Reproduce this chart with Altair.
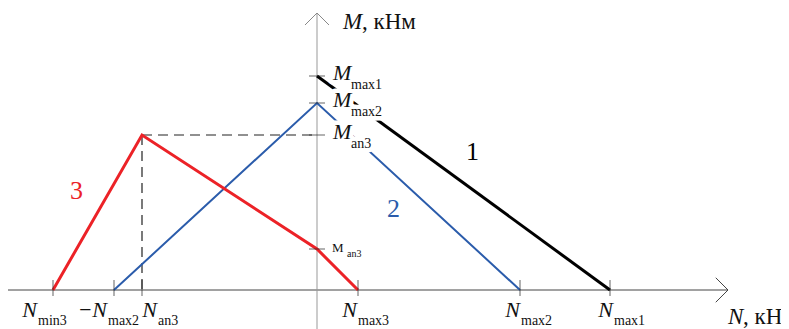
import altair as alt
import pandas as pd

# ---- data (N in kN, M in kNm, arbitrary units) ----
n_names = ["N", "\u2212N", "N", "N", "N", "N"]
n_subs = ["min3", "max2", "an3", "max3", "max2", "max1"]
n_vals = [-264, -203, -175, 41, 203, 293]

m_subs = ["max1", "max2", "an3"]
m_vals = [214, 187, 155]
m_small_val = 41          # lower "M an3" mark

s1_N = [0, 293]
s1_M = [214, 0]
s2_N = [-203, 0, 203]
s2_M = [0, 187, 0]
s3_N = [-264, -175, 0, 41]
s3_M = [0, 155, 41, 0]

x_axis_N = [-309, 411]
y_axis_M = [-39, 277]

# ---- layout / style ----
W, H = 773, 321
X_DOM = [-309, 464]
Y_DOM = [-39, 282]
C1, C2, C3 = "#000000", "#2b5cab", "#ec2227"
SERIF = "Liberation Serif"
n_label_dx = [-16, -7, 15, -1, 0, 3]

xs = alt.Scale(domain=X_DOM, nice=False, zero=False)
ys = alt.Scale(domain=Y_DOM, nice=False, zero=False)


def X(f="N"):
    return alt.X(f"{f}:Q", scale=xs, axis=None)


def Y(f="M"):
    return alt.Y(f"{f}:Q", scale=ys, axis=None)


layers = []

# axes
xaxis = pd.DataFrame({"N": [x_axis_N[0]], "N2": [x_axis_N[1]], "M": [0]})
yaxis = pd.DataFrame({"N": [0], "M": [y_axis_M[0]], "M2": [y_axis_M[1]]})
layers.append(alt.Chart(xaxis).mark_rule(color="#444", strokeWidth=1).encode(
    x=X(), x2="N2:Q", y=Y()))
layers.append(alt.Chart(yaxis).mark_rule(color="#999", strokeWidth=1).encode(
    x=X(), y=Y(), y2="M2:Q"))
layers.append(alt.Chart(pd.DataFrame({"N": [x_axis_N[1]], "M": [0]})).mark_point(
    shape="M-1,-1L0,0L-1,1", filled=False, size=600, color="#444", strokeWidth=1, opacity=1
).encode(x=X(), y=Y()))
layers.append(alt.Chart(pd.DataFrame({"N": [0], "M": [y_axis_M[1]]})).mark_point(
    shape="M-1,1L0,0L1,1", filled=False, size=576, color="#888", strokeWidth=1, opacity=1
).encode(x=X(), y=Y()))

# dashed guides at the red peak
peakN, peakM = s3_N[1], s3_M[1]
dash = pd.DataFrame({"N": [peakN, peakN], "M": [peakM, peakM],
                     "N2": [0, peakN], "M2": [peakM, 0]})
layers.append(alt.Chart(dash).mark_rule(color="#222", strokeWidth=1.2, strokeDash=[10, 6]).encode(
    x=X(), y=Y(), x2="N2:Q", y2="M2:Q"))

# series lines
for Ns, Ms, col, sw in [(s2_N, s2_M, C2, 2), (s3_N, s3_M, C3, 3), (s1_N, s1_M, C1, 3)]:
    df = pd.DataFrame({"N": Ns, "M": Ms, "o": list(range(len(Ns)))})
    layers.append(alt.Chart(df).mark_line(color=col, strokeWidth=sw).encode(
        x=X(), y=Y(), order="o:Q"))

# ticks
ntick = pd.DataFrame({"N": n_vals, "M": [0] * len(n_vals)})
layers.append(alt.Chart(ntick).mark_tick(orient="vertical", size=16, thickness=1, color="#222",
                                         yOffset=-2).encode(x=X(), y=Y()))
mvals_all = m_vals + [m_small_val]
mtick = pd.DataFrame({"M": mvals_all, "N": [0] * len(mvals_all)})
layers.append(alt.Chart(mtick).mark_tick(orient="horizontal", size=16, thickness=1, color="#222").encode(
    x=X(), y=Y()))

# N labels
for i in range(len(n_vals)):
    d = pd.DataFrame({"N": [n_vals[i]], "M": [0], "t": [n_names[i]], "s": [n_subs[i]]})
    layers.append(alt.Chart(d).mark_text(font=SERIF, fontStyle="italic", fontSize=22, align="right",
                                         baseline="alphabetic", dx=n_label_dx[i], dy=27, color="#111").encode(
        x=X(), y=Y(), text="t:N"))
    layers.append(alt.Chart(d).mark_text(font=SERIF, fontSize=14, align="left",
                                         baseline="alphabetic", dx=n_label_dx[i] + 1, dy=35, color="#111").encode(
        x=X(), y=Y(), text="s:N"))

# M labels (with white halo)
md = pd.DataFrame({"N": [0] * len(m_vals), "M": m_vals, "t": ["M"] * len(m_vals), "s": m_subs})
for halo in (True, False):
    kw = dict(color="white", stroke="white", strokeWidth=9, strokeJoin="round") if halo else dict(color="#111")
    layers.append(alt.Chart(md).mark_text(font=SERIF, fontStyle="italic", fontSize=22, align="left",
                                          baseline="alphabetic", dx=16, dy=4, **kw).encode(
        x=X(), y=Y(), text="t:N"))
    layers.append(alt.Chart(md).mark_text(font=SERIF, fontSize=14, align="left",
                                          baseline="alphabetic", dx=34, dy=13, **kw).encode(
        x=X(), y=Y(), text="s:N"))

sm = pd.DataFrame({"N": [0], "M": [m_small_val], "t": ["M"], "s": ["an3"]})
layers.append(alt.Chart(sm).mark_text(font=SERIF, fontSize=13, align="left", baseline="alphabetic",
                                      dx=15, dy=3, color="#111").encode(x=X(), y=Y(), text="t:N"))
layers.append(alt.Chart(sm).mark_text(font=SERIF, fontSize=10, align="left", baseline="alphabetic",
                                      dx=30, dy=8, color="#111").encode(x=X(), y=Y(), text="s:N"))

# axis titles
ty = pd.DataFrame({"N": [0], "M": [y_axis_M[1]], "a": ["M"], "b": [", кНм"]})
layers.append(alt.Chart(ty).mark_text(font=SERIF, fontStyle="italic", fontSize=23, align="left",
                                      baseline="alphabetic", dx=26, dy=16, color="#111").encode(
    x=X(), y=Y(), text="a:N"))
layers.append(alt.Chart(ty).mark_text(font=SERIF, fontSize=23, align="left",
                                      baseline="alphabetic", dx=45, dy=16, color="#111").encode(
    x=X(), y=Y(), text="b:N"))
tx = pd.DataFrame({"N": [x_axis_N[1]], "M": [0], "a": ["N"], "b": [", кН"]})
layers.append(alt.Chart(tx).mark_text(font=SERIF, fontStyle="italic", fontSize=23, align="left",
                                      baseline="alphabetic", dx=0, dy=34, color="#111").encode(
    x=X(), y=Y(), text="a:N"))
layers.append(alt.Chart(tx).mark_text(font=SERIF, fontSize=23, align="left",
                                      baseline="alphabetic", dx=15, dy=34, color="#111").encode(
    x=X(), y=Y(), text="b:N"))


# series numbers, placed relative to segment midpoints
def mid(Ns, Ms, a, b):
    return (Ns[a] + Ns[b]) / 2, (Ms[a] + Ms[b]) / 2


for txt, (mn, mm), col, ddx, ddy in [
    ("1", mid(s1_N, s1_M, 0, 1), C1, 9, -31),
    ("2", mid(s2_N, s2_M, 1, 2), C2, -25, 12),
    ("3", mid(s3_N, s3_M, 0, 1), C3, -21, -22),
]:
    d = pd.DataFrame({"N": [mn], "M": [mm], "t": [txt]})
    layers.append(alt.Chart(d).mark_text(font=SERIF, fontSize=26, align="center", baseline="middle",
                                         dx=ddx, dy=ddy, color=col).encode(x=X(), y=Y(), text="t:N"))

chart = alt.layer(*layers).properties(
    width=W, height=H, padding=0, autosize=alt.AutoSizeParams(type="none")
).configure_view(stroke=None)

chart.save("out.html", embed_options={"renderer": "svg", "actions": False})
